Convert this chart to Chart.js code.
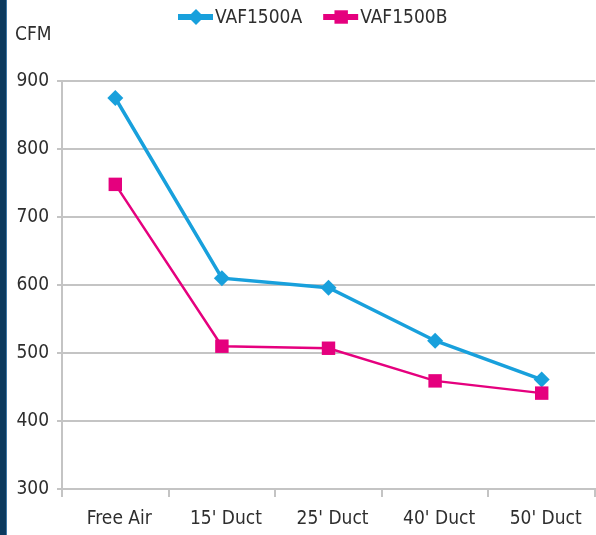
<!DOCTYPE html>
<html>
<head>
<meta charset="utf-8">
<script src="https://cdn.jsdelivr.net/npm/chart.js@4/dist/chart.umd.min.js"></script>
<style>
html, body { margin: 0; padding: 0; background: #fff; }
#wrap { position: relative; width: 596px; height: 535px; }
#strip { position: absolute; left: 0; top: 0; width: 6px; height: 535px; background: #0c3a5e; border-right: 1px solid #3f78a6; }
</style>
</head>
<body>
<div id="wrap">
  <canvas id="cfmChart" width="596" height="535"></canvas>
  <div id="strip"></div>
</div>
<script>
// data
const categories = ["Free Air", "15' Duct", "25' Duct", "40' Duct", "50' Duct"];
const vaf1500a = [875, 610, 596, 518, 461];
const vaf1500b = [748, 510, 507, 459, 441];
const yTicks = [300, 400, 500, 600, 700, 800, 900];
const seriesNames = ['VAF1500A', 'VAF1500B'];

const FONT = "'DejaVu Sans Condensed', sans-serif";
const TEXT = '#2e2e2e';
const GRID = '#c4c4c4';
const BLUE = '#18a0dc';
const PINK = '#e5007e';

// no extra room for the end markers, the plot runs to the right edge
Chart.registry.getController('line').prototype.getMaxOverflow = function () { return 0; };

// legend as line + marker, plus the CFM label
const extras = {
    id: 'extras',
    afterDraw(chart) {
        const ctx = chart.ctx;
        ctx.save();
        ctx.font = '19px ' + FONT;
        ctx.fillStyle = TEXT;
        ctx.textBaseline = 'middle';
        ctx.textAlign = 'left';
        ctx.fillText('CFM', 15, 35);

        let x = 178;
        const y = 17;
        chart.data.datasets.forEach(ds => {
            ctx.strokeStyle = ds.borderColor;
            ctx.lineWidth = 6;
            ctx.beginPath();
            ctx.moveTo(x, y);
            ctx.lineTo(x + 35, y);
            ctx.stroke();
            ctx.fillStyle = ds.borderColor;
            Chart.helpers.drawPoint(ctx, {
                pointStyle: ds.pointStyle,
                radius: ds.pointRadius,
                borderWidth: 0
            }, x + 18, y);
            ctx.fillStyle = TEXT;
            ctx.fillText(ds.label, x + 37, y + 1);
            x += 37 + ctx.measureText(ds.label).width + 21;
        });
        ctx.restore();
    }
};

const cfmChart = new Chart(document.getElementById('cfmChart'), {
    type: 'line',
    data: {
        labels: categories,
        datasets: [{
            label: seriesNames[0],
            data: vaf1500a,
            borderColor: BLUE,
            backgroundColor: BLUE,
            borderWidth: 3.5,
            pointStyle: 'rectRot',
            pointRadius: 8,
            pointBorderWidth: 0,
            order: 1
        }, {
            label: seriesNames[1],
            data: vaf1500b,
            borderColor: PINK,
            backgroundColor: PINK,
            borderWidth: 2.5,
            pointStyle: 'rect',
            pointRadius: 9.5,
            pointBorderWidth: 0,
            order: 0
        }]
    },
    options: {
        responsive: false,
        animation: false,
        layout: { padding: { top: 81, right: 1, left: 0, bottom: 0 } },
        plugins: {
            legend: { display: false },
            tooltip: { enabled: false }
        },
        scales: {
            x: {
                offset: true,
                grid: { offset: true, drawOnChartArea: false, color: GRID, lineWidth: 2, tickLength: 8 },
                border: { color: GRID, width: 2 },
                ticks: { color: TEXT, font: { family: FONT, size: 19 }, padding: 11, labelOffset: 4, maxRotation: 0 },
                afterFit: s => { s.height = 46; }
            },
            y: {
                min: 300,
                max: 900,
                afterBuildTicks: s => { s.ticks = yTicks.map(v => ({ value: v })); },
                grid: { color: GRID, lineWidth: 2, tickLength: 5 },
                border: { color: GRID, width: 2 },
                ticks: { color: TEXT, font: { family: FONT, size: 19 }, padding: 8 },
                afterFit: s => { s.width = 62; }
            }
        }
    },
    plugins: [extras]
});
</script>
</body>
</html>
